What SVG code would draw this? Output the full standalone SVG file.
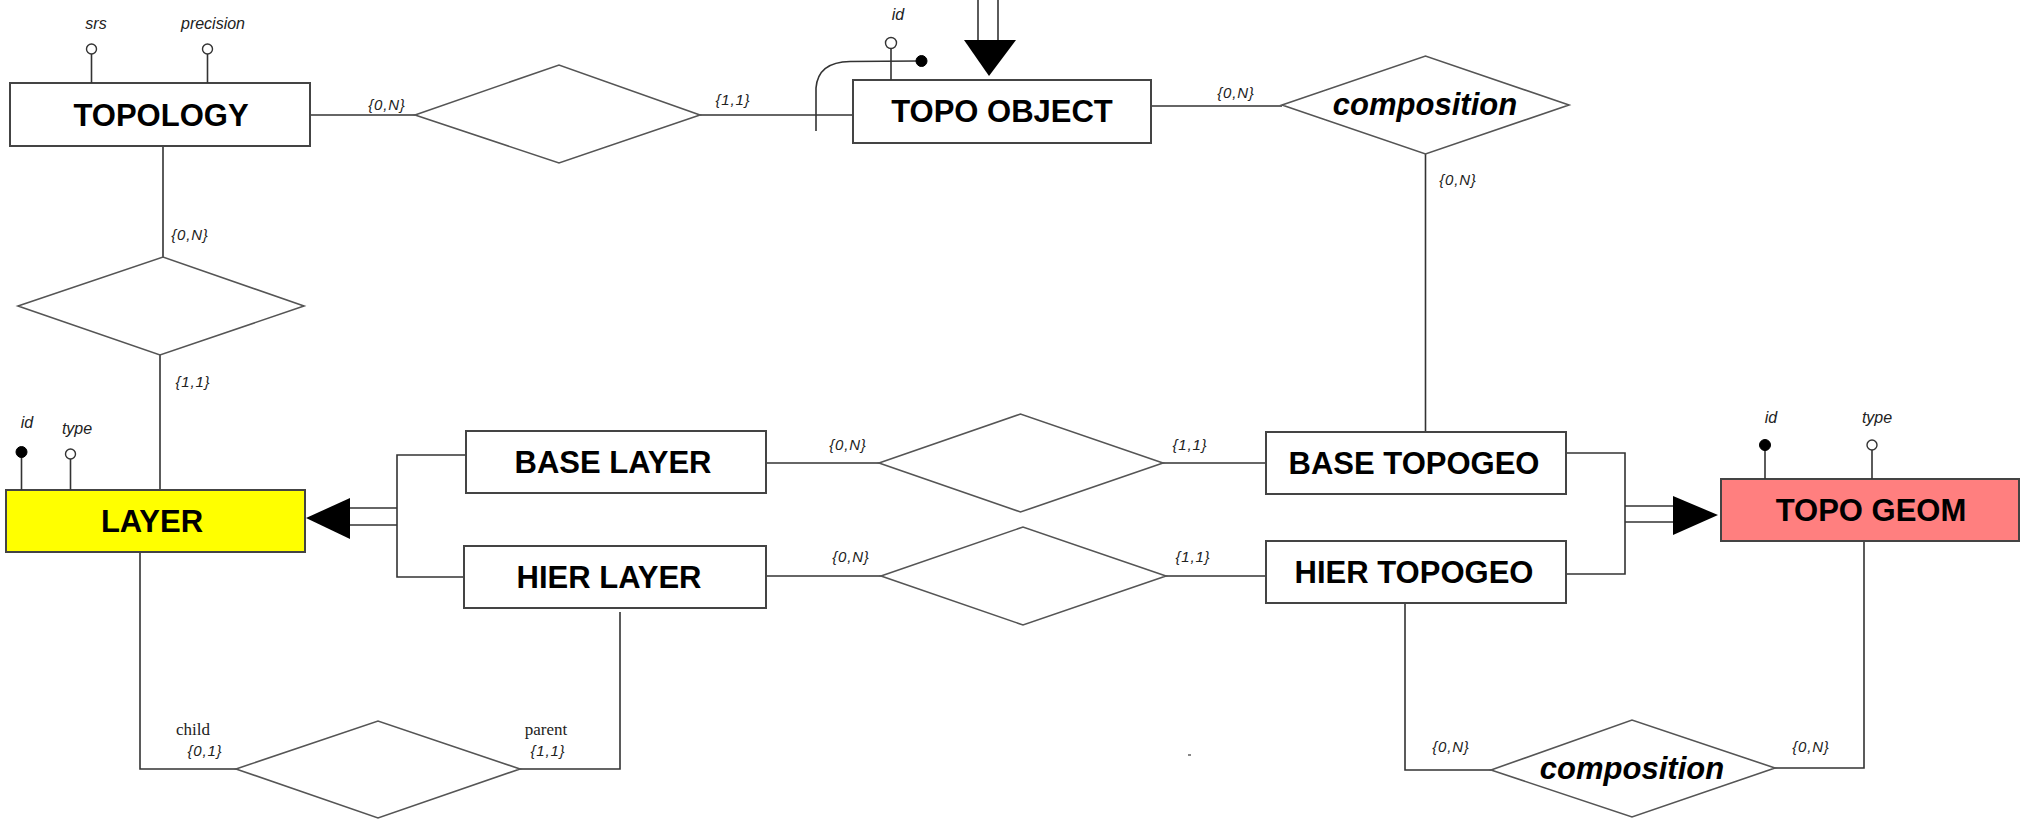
<svg xmlns="http://www.w3.org/2000/svg" width="2029" height="819" viewBox="0 0 2029 819">
<style>
.ent{fill:#fff;stroke:#444;stroke-width:2}
.rel{fill:#fff;stroke:#555;stroke-width:1.6}
.ln{fill:none;stroke:#333;stroke-width:1.6}
.et{font-family:"Liberation Sans",Arial,sans-serif;font-weight:bold;font-size:31px;fill:#000;text-anchor:middle}
.rt{font-family:"Liberation Sans",Arial,sans-serif;font-weight:bold;font-style:italic;font-size:31px;fill:#000;text-anchor:middle}
.card{font-family:"Liberation Sans",Arial,sans-serif;font-style:italic;font-size:15px;letter-spacing:0.8px;fill:#222;text-anchor:middle}
.att{font-family:"Liberation Sans",Arial,sans-serif;font-style:italic;font-size:16px;fill:#222;text-anchor:middle}
.role{font-family:"Liberation Serif","Times New Roman",serif;font-size:17px;fill:#222;text-anchor:middle}
.ao{fill:#fff;stroke:#333;stroke-width:1.4}
.af{fill:#000;stroke:#000;stroke-width:1}
</style>
<rect width="2029" height="819" fill="#fff"/>

<g id="connectors">
  <line class="ln" x1="310" y1="115" x2="415" y2="115"/>
  <line class="ln" x1="700" y1="115" x2="853" y2="115"/>
  <line class="ln" x1="163" y1="146" x2="163" y2="257"/>
  <line class="ln" x1="160" y1="355" x2="160" y2="490"/>
  <line class="ln" x1="1151" y1="106" x2="1282" y2="106"/>
  <line class="ln" x1="1425.5" y1="154" x2="1425.5" y2="432"/>
  <line class="ln" x1="766" y1="463" x2="879" y2="463"/>
  <line class="ln" x1="1163" y1="463" x2="1266" y2="463"/>
  <line class="ln" x1="766" y1="576" x2="881" y2="576"/>
  <line class="ln" x1="1166" y1="576" x2="1266" y2="576"/>
  <polyline class="ln" points="140,552 140,769 236,769"/>
  <polyline class="ln" points="520,769 620,769 620,612"/>
  <polyline class="ln" points="1405,603 1405,770 1491,770"/>
  <polyline class="ln" points="1775,768 1864,768 1864,541"/>
  <polyline class="ln" points="466,455 397,455 397,577 464,577"/>
  <line class="ln" x1="349" y1="508" x2="397" y2="508"/>
  <line class="ln" x1="349" y1="525" x2="397" y2="525"/>
  <polygon points="306,518 350,498 350,539" fill="#000"/>
  <polyline class="ln" points="1566,453 1625,453 1625,574 1566,574"/>
  <line class="ln" x1="1625" y1="506" x2="1673" y2="506"/>
  <line class="ln" x1="1625" y1="522" x2="1673" y2="522"/>
  <polygon points="1718,515 1673,496 1673,535" fill="#000"/>
  <line class="ln" x1="978" y1="0" x2="978" y2="40"/>
  <line class="ln" x1="998" y1="0" x2="998" y2="40"/>
  <polygon points="964,40 1016,40 989,76" fill="#000"/>
  <path class="ln" d="M816,131 L816,88 Q818,62 850,61.5 L918,61"/>
  <circle class="af" cx="921.5" cy="61" r="5.5"/>
</g>

<g id="topology">
  <rect class="ent" x="10" y="83" width="300" height="63"/>
  <text class="et" x="161" y="126">TOPOLOGY</text>
  <line class="ln" x1="91.5" y1="54" x2="91.5" y2="83"/>
  <circle class="ao" cx="91.5" cy="49" r="5"/>
  <text class="att" x="96" y="29">srs</text>
  <line class="ln" x1="207.5" y1="54" x2="207.5" y2="83"/>
  <circle class="ao" cx="207.5" cy="49" r="5"/>
  <text class="att" x="213" y="29">precision</text>
</g>

<g id="rel-topology-topoobject">
  <polygon class="rel" points="415,115 559,65 700,115 559,163"/>
  <text class="card" x="387" y="110">{0,N}</text>
  <text class="card" x="733" y="105">{1,1}</text>
</g>

<g id="rel-topology-layer">
  <polygon class="rel" points="18,306 163,257 304,306 160,355"/>
  <text class="card" x="190" y="240">{0,N}</text>
  <text class="card" x="193" y="387">{1,1}</text>
</g>

<g id="topo-object">
  <rect class="ent" x="853" y="80" width="298" height="63"/>
  <text class="et" x="1002" y="122">TOPO OBJECT</text>
  <line class="ln" x1="891" y1="49" x2="891" y2="80"/>
  <circle class="ao" cx="891" cy="43" r="5.5"/>
  <text class="att" x="898" y="20">id</text>
</g>

<g id="composition-top">
  <polygon class="rel" points="1282,105 1425.5,56 1569,105 1425.5,154"/>
  <text class="rt" x="1425" y="115">composition</text>
  <text class="card" x="1236" y="98">{0,N}</text>
  <text class="card" x="1458" y="185">{0,N}</text>
</g>

<g id="layer">
  <rect x="6" y="490" width="299" height="62" fill="#ffff00" stroke="#444" stroke-width="2"/>
  <text class="et" x="152" y="532">LAYER</text>
  <line class="ln" x1="21.5" y1="457" x2="21.5" y2="490"/>
  <circle class="af" cx="21.5" cy="452" r="5.5"/>
  <text class="att" x="27" y="428">id</text>
  <line class="ln" x1="70.5" y1="459" x2="70.5" y2="490"/>
  <circle class="ao" cx="70.5" cy="454" r="5"/>
  <text class="att" x="77" y="434">type</text>
</g>

<g id="base-layer">
  <rect class="ent" x="466" y="431" width="300" height="62"/>
  <text class="et" x="613" y="473">BASE LAYER</text>
</g>

<g id="hier-layer">
  <rect class="ent" x="464" y="546" width="302" height="62"/>
  <text class="et" x="609" y="588">HIER LAYER</text>
</g>

<g id="rel-base">
  <polygon class="rel" points="879,463 1020.5,414 1163,463 1020.5,512"/>
  <text class="card" x="848" y="450">{0,N}</text>
  <text class="card" x="1190" y="450">{1,1}</text>
</g>

<g id="rel-hier">
  <polygon class="rel" points="881,576 1023,527 1166,576 1023,625"/>
  <text class="card" x="851" y="562">{0,N}</text>
  <text class="card" x="1193" y="562">{1,1}</text>
</g>

<g id="base-topogeo">
  <rect class="ent" x="1266" y="432" width="300" height="62"/>
  <text class="et" x="1414" y="474">BASE TOPOGEO</text>
</g>

<g id="hier-topogeo">
  <rect class="ent" x="1266" y="541" width="300" height="62"/>
  <text class="et" x="1414" y="583">HIER TOPOGEO</text>
</g>

<g id="topo-geom">
  <rect x="1721" y="479" width="298" height="62" fill="#ff7f7f" stroke="#444" stroke-width="2"/>
  <text class="et" x="1871" y="521">TOPO GEOM</text>
  <line class="ln" x1="1765" y1="450" x2="1765" y2="479"/>
  <circle class="af" cx="1765" cy="445" r="5.5"/>
  <text class="att" x="1771" y="423">id</text>
  <line class="ln" x1="1872" y1="450" x2="1872" y2="479"/>
  <circle class="ao" cx="1872" cy="445" r="5"/>
  <text class="att" x="1877" y="423">type</text>
</g>

<g id="rel-layer-hierarchy">
  <polygon class="rel" points="236,769 378,721 520,769 378,818"/>
  <text class="role" x="193" y="735">child</text>
  <text class="card" x="205" y="756">{0,1}</text>
  <text class="role" x="546" y="735">parent</text>
  <text class="card" x="548" y="756">{1,1}</text>
</g>

<g id="composition-bottom">
  <polygon class="rel" points="1491,770 1632,720 1775,768 1632,817"/>
  <text class="rt" x="1632" y="779">composition</text>
  <text class="card" x="1451" y="752">{0,N}</text>
  <text class="card" x="1811" y="752">{0,N}</text>
</g>

<rect x="1188" y="754" width="3" height="2" fill="#888"/>
</svg>
